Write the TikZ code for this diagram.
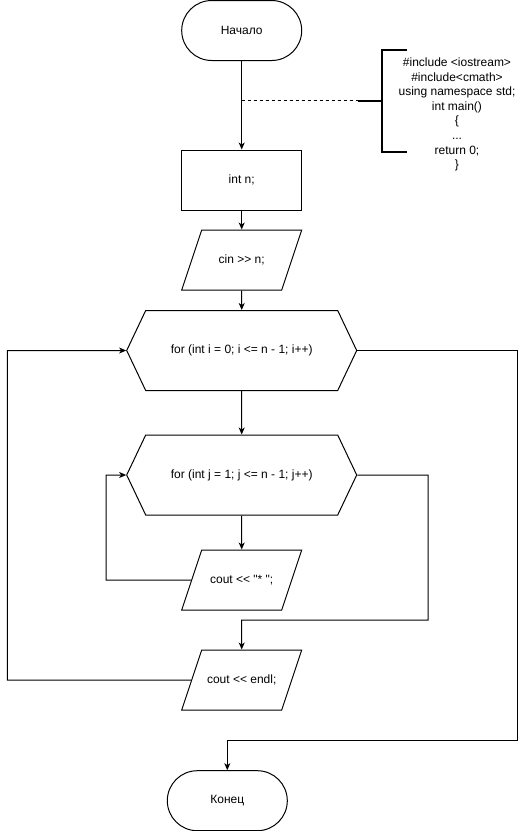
\documentclass[tikz,border=0pt]{standalone}
\usepackage{fontspec}
\setmainfont{Liberation Sans}[Ligatures=TeXOff]
\usetikzlibrary{shapes.geometric,shapes.symbols,arrows.meta}

\begin{document}
\begin{tikzpicture}[x=1pt,y=-1pt,line width=1pt,
        >={Stealth[length=7pt,width=6pt,inset=2pt]},
        every node/.style={font=\fontsize{12pt}{14.6pt}\selectfont},
        term/.style={draw,rectangle,rounded corners=30pt,minimum width=120pt,minimum height=60pt},
        proc/.style={draw,rectangle,minimum width=120pt,minimum height=60pt},
        io/.style={draw,trapezium,trapezium left angle=71.57,trapezium right angle=108.43,trapezium stretches body,text height=9pt,text depth=3pt,inner ysep=24pt,inner xsep=0pt,minimum width=120pt},
        loop/.style={draw,signal,signal to=east and west,signal pointer angle=129.2,minimum width=230pt,minimum height=80pt}]
        \useasboundingbox (0,0) rectangle (528,831);
        \node[term](start) at (241.7,30.5) {Начало};
        \node[proc](intn) at (241.7,180) {int n;};
        \node[io](cin) at (241.7,260) {cin >> n;};
        \node[loop](fori) at (241.7,350.5) {for (int i = 0; i <= n - 1; i++)};
        \node[loop](forj) at (241.7,475) {for (int j = 1; j <= n - 1; j++)};
        \node[io](star) at (241.7,580) {cout << "* ";};
        \node[io](endl) at (241.7,680) {cout << endl;};
        \node[term](finish) at (227.3,800.7) {Конец};
        % comment
        \node[align=center](code) at (457,114.5) {\#include <iostream>\\ \#include<cmath>\\ using namespace std;\\ int main()\\ \{\\ ...\\ return 0;\\ \}};
        \coordinate(brk) at (358,100.7);
        \coordinate(dsh) at (241.7,100.7);
        \draw[line width=2pt](407,50) -- (382,50) -- (382,151.7) -- (407,151.7);
        \draw[line width=2pt](382,100.7) -- (brk);
        \draw[dash pattern=on 3pt off 3pt](dsh) -- (brk);
        % main line
        \draw[->](start) -- (intn);
        \draw[->](intn) -- (cin);
        \draw[->](cin) -- (fori);
        \draw[->](fori) -- (forj);
        \draw[->](forj) -- (star);
        % loops
        \draw[->](star.west) -- (106,580) |- (forj.west);
        \draw[->](forj.east) -- (428,475) |- (241.7,620) -- (endl.north);
        \draw[->](endl.west) -- (7.3,680) |- (fori.west);
        \draw[->](fori.east) -- (517.3,350.5) |- (227.3,740.7) -- (finish.north);
        \end{tikzpicture}
\end{document}
